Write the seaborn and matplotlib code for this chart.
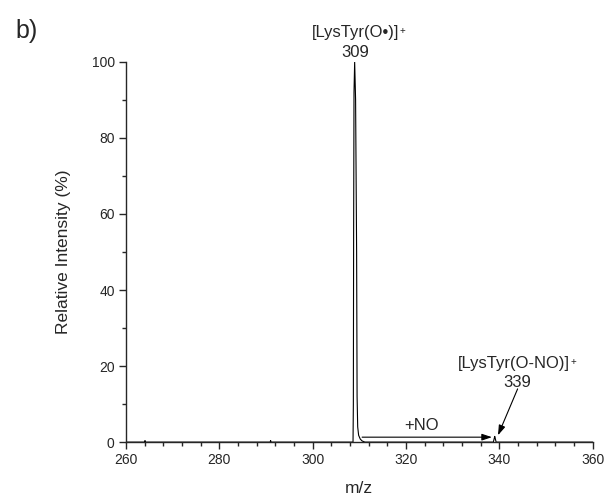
import matplotlib
matplotlib.use("Agg")
import matplotlib.pyplot as plt
import seaborn as sns
import pandas as pd
from matplotlib.ticker import MultipleLocator

sns.set_style("ticks")
plt.rcParams['font.family'] = ['Liberation Sans', 'DejaVu Sans']

# Spectrum (m/z, relative intensity %)
mz = [260.0, 264.0, 264.1, 264.2, 280.0, 290.9, 291.0, 291.1, 300.0, 308.65, 308.72,
      308.78, 308.86, 309.0, 309.2, 309.42, 309.52, 309.65, 309.85, 310.2, 310.6, 311.2,
      320.0, 330.0, 338.7, 338.9, 339.0, 339.1, 339.3, 345.0, 360.0]
intensity = [0.0, 0.0, 0.4, 0.0, 0.0, 0.0, 0.4, 0.0, 0.0, 0.0, 10.0,
             55.0, 92.0, 100.0, 90.0, 50.0, 12.0, 4.0, 1.8, 0.8, 0.3, 0.0,
             0.0, 0.0, 0.0, 1.0, 1.5, 1.0, 0.0, 0.0, 0.0]

x_ticks = [260, 280, 300, 320, 340, 360]
y_ticks = [0, 20, 40, 60, 80, 100]

peak_labels = ["[LysTyr(O\u2022)]", "[LysTyr(O-NO)]"]
peak_mz = ["309", "339"]

df = pd.DataFrame({"m/z": mz, "Relative Intensity (%)": intensity})

fig = plt.figure(figsize=(6.08, 4.99), dpi=100)
ax = fig.add_axes([0.207, 0.114, 0.768, 0.762])
sns.lineplot(data=df, x="m/z", y="Relative Intensity (%)", ax=ax,
             color="black", linewidth=0.8)

ax.set_xlim(260, 360)
ax.set_ylim(0, 100)
ax.set_xticks(x_ticks)
ax.set_yticks(y_ticks)
ax.xaxis.set_minor_locator(MultipleLocator(4))
ax.yaxis.set_minor_locator(MultipleLocator(10))
ax.tick_params(which="major", direction="out", length=5, width=1, labelsize=10, pad=3)
ax.tick_params(which="minor", direction="out", length=3, width=1)
sns.despine(ax=ax)
for s in ["left", "bottom"]:
    ax.spines[s].set_linewidth(1)
ax.set_xlabel("m/z", fontsize=12.5, labelpad=10)
ax.set_ylabel("Relative Intensity (%)", fontsize=12.5, labelpad=15)

# Annotations
kw = dict(xycoords="data", textcoords="offset pixels", ha="center",
          va="baseline", fontsize=12)
ax.annotate(peak_mz[0], xy=(309.1, 100), xytext=(0, 5), **kw)
t1 = ax.annotate(peak_labels[0], xy=(309.1, 100), xytext=(0, 25), **kw)
ax.annotate(peak_mz[1], xy=(343.9, 0), xytext=(0, 55), **kw)
t2 = ax.annotate(peak_labels[1], xy=(343.0, 0), xytext=(0, 74), **kw)
ax.annotate("+NO", xy=(323.4, 0), xytext=(0, 12), **kw)

fig.canvas.draw()
renderer = fig.canvas.get_renderer()
for t in (t1, t2):
    bb = t.get_window_extent(renderer)
    fig.text((bb.x1 + 1) / fig.dpi / 6.08, (bb.y1 - 1) / fig.dpi / 4.99, "+",
             fontsize=7, ha="left", va="top")

ax.annotate("", xy=(338.4, 1.3), xytext=(310.6, 1.3),
            arrowprops=dict(arrowstyle="-|>,head_length=0.6,head_width=0.2",
                            color="black", lw=0.8,
                            mutation_scale=10, shrinkA=0, shrinkB=0))
ax.annotate("", xy=(339.7, 1.8), xytext=(343.9, 14.0),
            arrowprops=dict(arrowstyle="-|>,head_length=0.6,head_width=0.2",
                            color="black", lw=0.8,
                            mutation_scale=10, shrinkA=0, shrinkB=0))

fig.text(15 / 608, 1 - 38 / 499, "b)", fontsize=18, va="baseline")

fig.savefig("out.png", dpi=100)
